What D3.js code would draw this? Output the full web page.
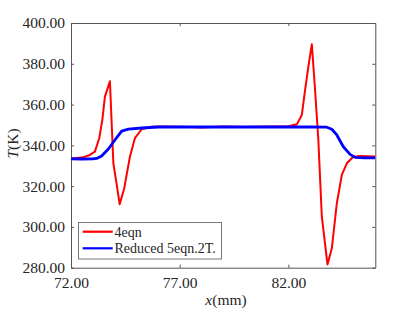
<!DOCTYPE html>
<html>
<head>
<meta charset="utf-8">
<script src="https://cdn.jsdelivr.net/npm/d3@7"></script>
<style>
  body { margin: 0; background: #fff; }
  svg text { font-family: "Liberation Serif", "Times New Roman", serif; fill: #262626; }
</style>
</head>
<body>
<script>
// 4eqn (red)
var redX = [72.0, 72.5, 72.87, 73.10, 73.30, 73.44, 73.56, 73.79, 73.95, 74.10, 74.24, 74.45, 74.71, 74.94, 75.25, 75.71,
            76.2, 77.0, 77.5, 78.0, 78.5, 79.0, 79.5, 80.0, 80.5, 81.0, 81.5, 82.0, 82.39, 82.62, 82.77, 82.92,
            83.08, 83.23, 83.38, 83.54, 83.80, 84.00, 84.23, 84.46, 84.69, 84.99, 85.3, 85.61, 86.0];
var redT = [333.5, 334.0, 335.3, 336.9, 343.5, 352.4, 363.9, 371.4, 331.0, 321.0, 311.1, 319.0, 334.4, 343.5, 347.9, 349.1,
            349.3, 349.1, 349.0, 348.7, 349.0, 349.2, 349.1, 349.0, 349.1, 349.3, 349.3, 349.4, 350.3, 354.9, 367.2, 378.6,
            389.6, 367.0, 342.6, 305.0, 281.6, 289.5, 311.6, 325.5, 331.2, 334.4, 334.8, 334.7, 334.5];

// Reduced 5eqn.2T. (blue)
var blueX = [72.0, 72.5, 73.0, 73.18, 73.41, 73.72, 74.02, 74.33, 74.64, 75.25, 76.0, 78.0, 80.0, 82.0, 83.0,
             83.77, 84.0, 84.23, 84.53, 84.84, 85.07, 85.5, 86.0];
var blueT = [333.4, 333.3, 333.4, 333.6, 334.8, 338.2, 342.6, 347.0, 348.0, 348.5, 349.0, 349.0, 349.0, 349.0, 349.0,
             348.9, 347.9, 345.1, 339.3, 335.6, 334.1, 333.9, 333.9];

var seriesNames = ["4eqn", "Reduced 5eqn.2T."];
var seriesColors = ["#ff0000", "#0000ff"];

var xTicks = [72, 77, 82];
var yTicks = [280, 300, 320, 340, 360, 380, 400];

var w = 415, h = 312;
var padL = 71, padR = 375.3, padT = 23, padB = 267.7;

var svg = d3.select("body").append("svg")
  .attr("width", w)
  .attr("height", h);

var xScale = d3.scaleLinear().domain([72, 86]).range([padL, padR]);
var yScale = d3.scaleLinear().domain([280, 400]).range([padB, padT]);

var fmt = d3.format(".2f");

function styleAxis(g) {
  g.selectAll("path, line").attr("stroke", "#555").attr("stroke-width", 1);
  g.selectAll("text").attr("font-family", "Liberation Serif, serif").attr("font-size", "15.5px").attr("fill", "#262626");
}

svg.append("g")
  .attr("transform", "translate(0," + padB + ")")
  .call(d3.axisBottom(xScale).tickValues(xTicks).tickFormat(fmt).tickSizeInner(-3).tickSizeOuter(0).tickPadding(9.5))
  .call(styleAxis);

svg.append("g")
  .attr("transform", "translate(0," + padT + ")")
  .call(d3.axisTop(xScale).tickValues(xTicks).tickFormat("").tickSizeInner(-3).tickSizeOuter(0))
  .call(styleAxis);

svg.append("g")
  .attr("transform", "translate(" + padL + ",0)")
  .call(d3.axisLeft(yScale).tickValues(yTicks).tickFormat(fmt).tickSizeInner(-3).tickSizeOuter(0).tickPadding(6))
  .call(styleAxis);

svg.append("g")
  .attr("transform", "translate(" + padR + ",0)")
  .call(d3.axisRight(yScale).tickValues(yTicks).tickFormat("").tickSizeInner(-3).tickSizeOuter(0))
  .call(styleAxis);

svg.append("clipPath").attr("id", "clip")
  .append("rect")
  .attr("x", padL).attr("y", padT)
  .attr("width", padR - padL).attr("height", padB - padT);

var line = d3.line()
  .x(function(d) { return xScale(d[0]); })
  .y(function(d) { return yScale(d[1]); });

var redData = d3.zip(redX, redT);
var blueData = d3.zip(blueX, blueT);

svg.append("path")
  .datum(redData)
  .attr("clip-path", "url(#clip)")
  .attr("fill", "none")
  .attr("stroke", seriesColors[0])
  .attr("stroke-width", 2)
  .attr("stroke-linejoin", "round")
  .attr("d", line);

svg.append("path")
  .datum(blueData)
  .attr("clip-path", "url(#clip)")
  .attr("fill", "none")
  .attr("stroke", seriesColors[1])
  .attr("stroke-width", 2.8)
  .attr("stroke-linejoin", "round")
  .attr("d", line);

// axis titles
var yl = svg.append("text")
  .attr("transform", "translate(18,143.5) rotate(-90)")
  .attr("text-anchor", "middle")
  .attr("font-size", "15.5px");
yl.append("tspan").attr("font-style", "italic").text("T");
yl.append("tspan").text("(K)");

var xl = svg.append("text")
  .attr("x", 226)
  .attr("y", 305)
  .attr("text-anchor", "middle")
  .attr("font-size", "15.5px");
xl.append("tspan").attr("font-style", "italic").text("x");
xl.append("tspan").text("(mm)");

// legend
var legend = svg.append("g");
legend.append("rect")
  .attr("x", 78.5).attr("y", 222.5)
  .attr("width", 143).attr("height", 36.5)
  .attr("fill", "#fff")
  .attr("stroke", "#777")
  .attr("stroke-width", 1);

var items = legend.selectAll("g.item")
  .data(seriesNames)
  .enter()
  .append("g")
  .attr("class", "item")
  .attr("transform", function(d, i) { return "translate(0," + (231.7 + i * 16.6) + ")"; });

items.append("line")
  .attr("x1", 82.7).attr("x2", 112.7)
  .attr("y1", 0).attr("y2", 0)
  .attr("stroke", function(d, i) { return seriesColors[i]; })
  .attr("stroke-width", 2.2);

items.append("text")
  .attr("x", 114.5)
  .attr("y", 5)
  .attr("font-size", "14px")
  .text(function(d) { return d; });
</script>
</body>
</html>
